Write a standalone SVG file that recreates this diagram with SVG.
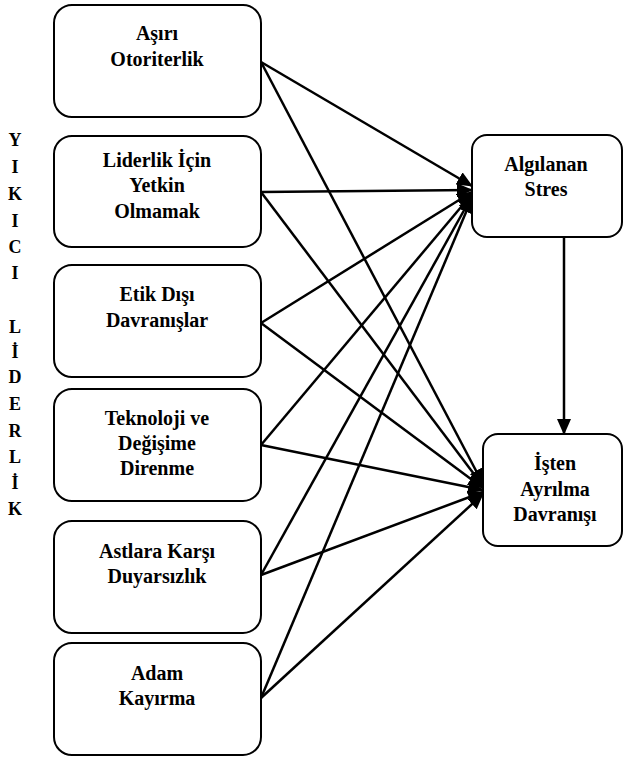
<svg xmlns="http://www.w3.org/2000/svg" width="624" height="758" viewBox="0 0 624 758">
<style>
.box{fill:#fff;stroke:#000;stroke-width:2}
.t{font-weight:bold;font-size:20px;text-anchor:middle;fill:#000}
.v{font-weight:bold;font-size:18px;text-anchor:middle;fill:#000}
.c{stroke:#000;stroke-width:2.5;fill:none;marker-end:url(#ah)}
</style>
<defs>
<marker id="ah" markerUnits="userSpaceOnUse" markerWidth="16" markerHeight="14" refX="15" refY="7" orient="auto">
<path d="M0,0 L16,7 L0,14 z" fill="#000"/>
</marker>
</defs>
<g id="side-label" font-family="Liberation Serif, Times New Roman, serif">
<text class="v" x="15" y="146">Y</text>
<text class="v" x="15" y="173">I</text>
<text class="v" x="15" y="200">K</text>
<text class="v" x="15" y="227">I</text>
<text class="v" x="15" y="253">C</text>
<text class="v" x="15" y="279">I</text>
<text class="v" x="15" y="333">L</text>
<text class="v" x="15" y="358">İ</text>
<text class="v" x="15" y="383">D</text>
<text class="v" x="15" y="410">E</text>
<text class="v" x="15" y="437">R</text>
<text class="v" x="15" y="463">L</text>
<text class="v" x="15" y="489">İ</text>
<text class="v" x="15" y="515">K</text>
</g>
<g id="connectors">
<line class="c" x1="261" y1="62" x2="472" y2="186"/>
<line class="c" x1="261" y1="62" x2="483" y2="484"/>
<line class="c" x1="261" y1="192" x2="472" y2="190"/>
<line class="c" x1="261" y1="192" x2="483" y2="486"/>
<line class="c" x1="261" y1="323" x2="472" y2="192"/>
<line class="c" x1="261" y1="323" x2="483" y2="488"/>
<line class="c" x1="261" y1="445" x2="472" y2="194"/>
<line class="c" x1="261" y1="445" x2="483" y2="490"/>
<line class="c" x1="261" y1="575" x2="472" y2="196"/>
<line class="c" x1="261" y1="575" x2="483" y2="492"/>
<line class="c" x1="261" y1="698" x2="472" y2="198"/>
<line class="c" x1="261" y1="698" x2="483" y2="494"/>
<line class="c" x1="564" y1="237" x2="564" y2="434"/>
</g>
<g font-family="Liberation Serif, Times New Roman, serif">
<g id="n1"><rect class="box" x="54" y="5" width="207" height="112" rx="18"/><text class="t" x="157" y="40">Aşırı</text><text class="t" x="157" y="66">Otoriterlik</text></g>
<g id="n2"><rect class="box" x="54" y="136" width="207" height="111" rx="18"/><text class="t" x="157" y="167">Liderlik İçin</text><text class="t" x="157" y="192">Yetkin</text><text class="t" x="157" y="218">Olmamak</text></g>
<g id="n3"><rect class="box" x="54" y="265" width="207" height="112" rx="18"/><text class="t" x="157" y="301">Etik Dışı</text><text class="t" x="157" y="327">Davranışlar</text></g>
<g id="n4"><rect class="box" x="54" y="389" width="207" height="112" rx="18"/><text class="t" x="157" y="425">Teknoloji ve</text><text class="t" x="157" y="450">Değişime</text><text class="t" x="157" y="475">Direnme</text></g>
<g id="n5"><rect class="box" x="54" y="521" width="207" height="112" rx="18"/><text class="t" x="157" y="558">Astlara Karşı</text><text class="t" x="157" y="583">Duyarsızlık</text></g>
<g id="n6"><rect class="box" x="54" y="643" width="207" height="112" rx="18"/><text class="t" x="157" y="680">Adam</text><text class="t" x="157" y="705">Kayırma</text></g>
<g id="n7"><rect class="box" x="472" y="135" width="150" height="102" rx="15"/><text class="t" x="546" y="171">Algılanan</text><text class="t" x="546" y="196">Stres</text></g>
<g id="n8"><rect class="box" x="483" y="434" width="139" height="112" rx="15"/><text class="t" x="555" y="470">İşten</text><text class="t" x="555" y="496">Ayrılma</text><text class="t" x="555" y="521">Davranışı</text></g>
</g>
</svg>
